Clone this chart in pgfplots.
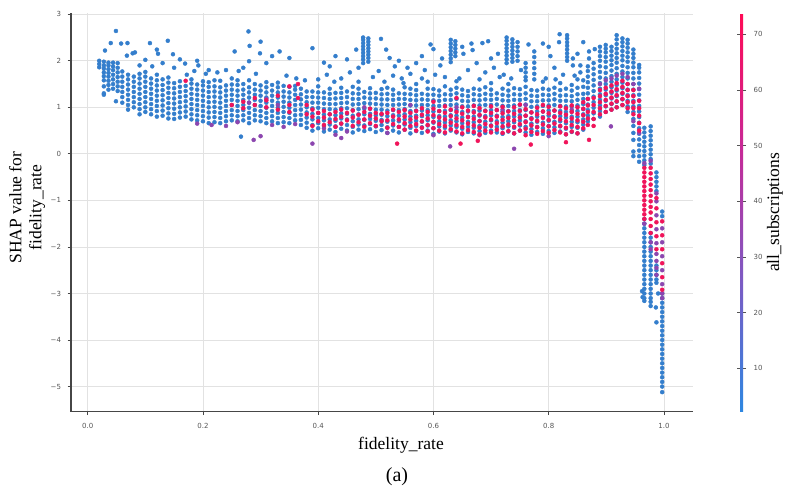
\documentclass[border=0pt]{standalone}
\usepackage{pgfplots}
\usepackage{pgfplotstable}
\pgfplotsset{compat=1.18}
\usepackage{fontspec}
\setmainfont{Liberation Serif}
\newfontfamily\tickfont{DejaVu Sans}

\definecolor{ptblue}{RGB}{52,126,204}
\definecolor{ptpink}{RGB}{240,20,90}
\definecolor{ptpurple}{RGB}{140,70,175}
\definecolor{gridgray}{RGB}{226,226,226}
\definecolor{axisgray}{RGB}{70,70,70}
\definecolor{tickgray}{RGB}{85,85,85}

% blue dense band, one row per x column
\pgfplotstableread{
x a b c d e f g h i j
0.020 1.86 1.93 2.00 nan nan nan nan nan nan nan
0.028 1.30 1.45 1.58 1.67 1.75 1.83 1.90 1.98 nan nan
0.036 1.38 1.48 1.57 1.66 1.74 1.82 1.90 1.96 nan nan
0.044 1.40 1.50 1.60 1.70 1.80 1.88 1.96 nan nan nan
0.052 1.35 1.45 1.55 1.65 1.75 1.85 1.95 nan nan nan
0.060 1.10 1.22 1.33 1.44 1.55 1.66 1.77 nan nan nan
0.070 0.95 1.05 1.16 1.27 1.38 1.49 1.60 1.70 nan nan
0.080 1.00 1.11 1.22 1.33 1.44 1.55 1.66 nan nan nan
0.090 0.85 0.96 1.07 1.18 1.29 1.40 1.51 1.62 1.72 nan
0.100 0.90 1.00 1.11 1.22 1.33 1.44 1.55 1.66 1.76 nan
0.110 0.85 0.96 1.07 1.18 1.29 1.40 1.51 1.62 nan nan
0.120 0.80 0.92 1.03 1.14 1.25 1.36 1.47 1.58 1.70 nan
0.130 0.82 0.93 1.04 1.15 1.26 1.37 1.48 1.60 nan nan
0.140 0.76 0.87 0.98 1.09 1.20 1.31 1.42 1.53 1.64 nan
0.150 0.75 0.86 0.97 1.08 1.19 1.30 1.41 1.52 nan nan
0.160 0.78 0.89 1.00 1.11 1.22 1.33 1.44 1.56 nan nan
0.170 0.80 0.91 1.02 1.13 1.24 1.35 1.46 nan nan nan
0.180 0.74 0.85 0.96 1.07 1.18 1.29 1.40 1.51 1.60 nan
0.190 0.72 0.83 0.94 1.05 1.16 1.27 1.38 1.49 nan nan
0.200 0.70 0.81 0.92 1.03 1.14 1.25 1.36 1.47 1.56 nan
0.210 0.66 0.78 0.89 1.00 1.11 1.22 1.33 1.44 1.54 nan
0.220 0.68 0.79 0.90 1.01 1.12 1.23 1.34 1.45 1.58 nan
0.230 0.66 0.77 0.88 0.99 1.10 1.21 1.32 1.43 1.57 nan
0.240 0.70 0.81 0.92 1.03 1.14 1.25 1.36 1.47 nan nan
0.250 0.72 0.83 0.94 1.05 1.16 1.27 1.38 1.49 1.62 nan
0.260 0.70 0.81 0.92 1.03 1.14 1.25 1.36 1.48 1.58 nan
0.270 0.72 0.83 0.94 1.05 1.16 1.27 1.38 1.50 nan nan
0.280 0.66 0.77 0.88 0.99 1.10 1.21 1.32 1.43 1.58 nan
0.290 0.72 0.83 0.94 1.05 1.16 1.27 1.38 1.50 nan nan
0.300 0.70 0.81 0.92 1.03 1.14 1.25 1.36 1.47 nan nan
0.310 0.66 0.77 0.88 0.99 1.10 1.21 1.32 1.43 1.54 nan
0.320 0.70 0.81 0.92 1.03 1.14 1.25 1.36 1.48 nan nan
0.330 0.66 0.77 0.88 0.99 1.10 1.21 1.32 1.43 1.53 nan
0.340 0.68 0.79 0.90 1.01 1.12 1.23 1.34 1.46 nan nan
0.350 0.66 0.77 0.88 0.99 1.10 1.21 1.32 1.44 nan nan
0.360 0.72 0.83 0.94 1.05 1.16 1.27 1.38 1.46 nan nan
0.370 0.62 0.73 0.84 0.95 1.06 1.17 1.28 1.40 nan nan
0.380 0.56 0.67 0.78 0.89 1.00 1.11 1.22 1.34 nan nan
0.390 0.50 0.62 0.74 0.86 0.98 1.10 1.22 1.34 nan nan
0.400 0.55 0.66 0.77 0.88 0.99 1.10 1.21 1.32 1.45 nan
0.410 0.48 0.60 0.72 0.84 0.96 1.08 1.20 1.32 nan nan
0.420 0.52 0.63 0.74 0.85 0.96 1.07 1.18 1.29 1.40 nan
0.430 0.47 0.59 0.71 0.83 0.95 1.07 1.19 1.31 nan nan
0.440 0.54 0.65 0.76 0.87 0.98 1.09 1.20 1.31 1.42 nan
0.450 0.50 0.62 0.74 0.86 0.98 1.10 1.22 1.34 nan nan
0.460 0.46 0.58 0.70 0.82 0.94 1.06 1.18 1.30 1.44 nan
0.470 0.52 0.63 0.74 0.85 0.96 1.07 1.18 1.29 1.40 1.55
0.480 0.49 0.61 0.73 0.85 0.97 1.09 1.21 1.33 nan nan
0.490 0.53 0.64 0.75 0.86 0.97 1.08 1.19 1.30 1.41 nan
0.500 0.47 0.59 0.71 0.83 0.95 1.07 1.19 1.31 nan nan
0.510 0.51 0.62 0.73 0.84 0.95 1.06 1.17 1.28 1.39 nan
0.520 0.45 0.57 0.69 0.81 0.93 1.05 1.17 1.29 1.42 nan
0.530 0.50 0.61 0.72 0.83 0.94 1.05 1.16 1.27 1.38 nan
0.540 0.46 0.58 0.70 0.82 0.94 1.06 1.18 1.30 nan nan
0.550 0.52 0.63 0.74 0.85 0.96 1.07 1.18 1.29 1.43 nan
0.560 0.44 0.56 0.68 0.80 0.92 1.04 1.16 1.28 1.40 nan
0.570 0.49 0.60 0.71 0.82 0.93 1.04 1.15 1.26 1.37 1.50
0.580 0.45 0.57 0.69 0.81 0.93 1.05 1.17 1.29 nan nan
0.590 0.50 0.61 0.72 0.83 0.94 1.05 1.16 1.27 1.40 nan
0.600 0.43 0.55 0.67 0.79 0.91 1.03 1.15 1.27 1.39 nan
0.610 0.48 0.59 0.70 0.81 0.92 1.03 1.14 1.25 1.36 nan
0.620 0.44 0.56 0.68 0.80 0.92 1.04 1.16 1.28 1.45 nan
0.630 0.50 0.61 0.72 0.83 0.94 1.05 1.16 1.27 1.38 nan
0.640 0.46 0.58 0.70 0.82 0.94 1.06 1.18 1.30 1.42 1.56
0.650 0.42 0.54 0.66 0.78 0.90 1.02 1.14 1.26 1.38 nan
0.660 0.47 0.58 0.69 0.80 0.91 1.02 1.13 1.24 1.35 nan
0.670 0.44 0.56 0.68 0.80 0.92 1.04 1.16 1.28 1.40 nan
0.680 0.49 0.60 0.71 0.82 0.93 1.04 1.15 1.26 1.38 nan
0.690 0.45 0.57 0.69 0.81 0.93 1.05 1.17 1.29 1.43 nan
0.700 0.50 0.61 0.72 0.83 0.94 1.05 1.16 1.27 1.38 1.52
0.710 0.46 0.58 0.70 0.82 0.94 1.06 1.18 1.30 nan nan
0.720 0.43 0.55 0.67 0.79 0.91 1.03 1.15 1.27 1.40 nan
0.730 0.48 0.59 0.70 0.81 0.92 1.03 1.14 1.25 1.36 1.50
0.740 0.44 0.56 0.68 0.80 0.92 1.04 1.16 1.28 1.41 nan
0.750 0.50 0.61 0.72 0.83 0.94 1.05 1.16 1.27 1.39 nan
0.760 0.46 0.58 0.70 0.82 0.94 1.06 1.18 1.30 1.44 1.58
0.770 0.41 0.53 0.65 0.77 0.89 1.01 1.13 1.25 1.37 nan
0.780 0.47 0.58 0.69 0.80 0.91 1.02 1.13 1.24 1.36 nan
0.790 0.43 0.55 0.67 0.79 0.91 1.03 1.15 1.27 1.40 1.55
0.800 0.49 0.60 0.71 0.82 0.93 1.04 1.15 1.26 1.38 nan
0.810 0.45 0.57 0.69 0.81 0.93 1.05 1.17 1.29 1.42 nan
0.820 0.48 0.59 0.70 0.81 0.92 1.03 1.14 1.25 1.37 1.52
0.830 0.42 0.54 0.66 0.78 0.90 1.02 1.14 1.26 1.40 nan
0.840 0.47 0.58 0.69 0.80 0.91 1.02 1.13 1.24 1.36 1.48
0.850 0.44 0.56 0.68 0.80 0.92 1.04 1.16 1.28 1.42 1.60
0.860 0.52 0.63 0.74 0.85 0.96 1.07 1.18 1.29 1.44 1.58
}\bluemain

% blue tall columns near fidelity_rate = 0.9 and the drop near 1.0
\pgfplotstableread{
x a b c d e f g h i j k l
0.868 0.70 0.82 0.94 1.06 1.18 1.30 1.42 1.54 1.66 1.78 1.88 nan
0.878 0.75 0.87 0.99 1.11 1.23 1.35 1.47 1.59 1.71 1.83 1.95 nan
0.889 0.80 0.92 1.04 1.16 1.28 1.40 1.52 1.64 1.76 1.88 2.00 2.10
0.889 2.20 2.30 nan nan nan nan nan nan nan nan nan nan
0.899 0.90 1.02 1.14 1.26 1.38 1.50 1.62 1.74 1.86 1.98 2.08 2.18
0.899 2.26 2.34 nan nan nan nan nan nan nan nan nan nan
0.909 0.95 1.07 1.19 1.31 1.43 1.55 1.67 1.79 1.91 2.01 2.11 2.21
0.909 2.30 nan nan nan nan nan nan nan nan nan nan nan
0.918 1.00 1.12 1.24 1.36 1.48 1.60 1.72 1.84 1.96 2.06 2.16 2.26
0.918 2.36 2.46 2.55 nan nan nan nan nan nan nan nan nan
0.928 1.05 1.17 1.29 1.41 1.53 1.65 1.77 1.89 2.01 2.11 2.21 2.31
0.928 2.40 2.48 nan nan nan nan nan nan nan nan nan nan
0.937 0.90 1.02 1.14 1.26 1.38 1.50 1.62 1.74 1.86 1.98 2.08 2.18
0.937 2.28 2.37 2.45 nan nan nan nan nan nan nan nan nan
0.947 0.30 0.45 0.60 0.75 0.90 1.02 1.14 1.26 1.38 1.50 1.62 1.74
0.947 1.86 1.96 2.06 2.15 2.24 0.05 -0.05 nan nan nan nan nan
0.957 -0.17 -0.05 0.07 0.19 0.31 0.43 0.55 0.67 0.79 0.91 1.03 1.15
0.957 1.27 1.39 1.51 1.63 1.75 1.85 1.91 nan nan nan nan nan
0.966 0.56 0.46 0.36 0.26 0.16 0.06 -0.04 -0.14 -0.24 -1.40 -1.50 -1.60
0.966 -1.70 -1.80 -1.90 -2.00 -2.10 -2.20 -2.30 -2.40 -2.50 -2.60 -2.70 -2.80
0.966 -2.90 -3.00 -3.10 -3.16 nan nan nan nan nan nan nan nan
0.977 0.59 0.49 0.39 0.29 0.19 0.09 -0.01 -0.11 -0.21 -1.70 -1.80 -1.90
0.977 -2.00 -2.10 -2.20 -2.30 -2.40 -2.50 -2.60 -2.70 -2.80 -2.90 -3.00 -3.10
0.977 -3.18 -3.27 nan nan nan nan nan nan nan nan nan nan
0.987 -0.40 -0.50 -0.60 -0.70 -0.80 -2.40 -2.50 -2.60 -2.70 -2.77 -3.62 nan
0.997 -1.24 -1.34 -3.00 -3.10 -3.20 -3.30 -3.40 -3.50 -3.60 -3.70 -3.80 -3.90
0.997 -4.00 -4.10 -4.20 -4.30 -4.40 -4.50 -4.60 -4.70 -4.80 -4.90 -5.00 -5.12
}\bluetall

% scattered blue points above and below the band
\pgfplotstableread{
x y
0.049 2.64
0.030 2.22
0.040 2.38
0.058 2.37
0.069 2.38
0.068 2.11
0.078 2.16
0.082 2.18
0.108 2.38
0.100 2.02
0.120 2.24
0.122 2.15
0.139 2.43
0.148 2.14
0.160 2.03
0.169 1.94
0.190 2.00
0.192 1.90
0.255 2.20
0.279 2.63
0.281 2.32
0.300 2.41
0.280 1.99
0.299 2.16
0.310 1.95
0.320 2.10
0.333 2.20
0.350 2.06
0.270 1.85
0.240 1.80
0.225 1.75
0.210 1.80
0.185 1.78
0.150 1.85
0.130 1.95
0.090 1.90
0.112 1.88
0.172 1.70
0.205 1.72
0.262 1.78
0.292 1.72
0.345 1.68
0.362 1.62
0.377 1.58
0.049 1.13
0.028 1.27
0.266 0.37
0.390 2.27
0.410 1.96
0.420 1.88
0.430 2.10
0.450 2.03
0.466 2.24
0.478 1.95
0.478 2.03
0.478 2.10
0.478 2.17
0.478 2.24
0.478 2.31
0.478 2.38
0.478 2.45
0.478 2.50
0.487 1.98
0.487 2.06
0.487 2.13
0.487 2.20
0.487 2.27
0.487 2.34
0.487 2.41
0.487 2.48
0.509 2.47
0.518 2.24
0.524 2.06
0.533 1.88
0.400 1.60
0.415 1.70
0.428 1.55
0.440 1.62
0.455 1.75
0.470 1.85
0.495 1.65
0.505 1.78
0.515 1.55
0.530 1.68
0.545 1.62
0.555 1.85
0.540 2.00
0.560 1.72
0.548 1.52
0.570 1.95
0.580 2.10
0.585 1.80
0.595 2.35
0.600 2.25
0.603 1.70
0.612 1.90
0.615 2.05
0.630 2.45
0.630 2.37
0.630 2.29
0.630 2.21
0.630 2.13
0.630 2.05
0.630 1.97
0.638 2.42
0.638 2.34
0.638 2.26
0.638 2.18
0.638 2.10
0.650 2.30
0.652 2.15
0.666 2.37
0.668 2.23
0.675 1.95
0.660 1.80
0.685 2.38
0.695 2.42
0.690 1.75
0.700 2.05
0.705 1.85
0.712 2.15
0.620 1.65
0.645 1.62
0.680 1.60
0.715 1.65
0.580 1.62
0.590 1.55
0.727 1.95
0.727 2.03
0.727 2.11
0.727 2.19
0.727 2.27
0.727 2.35
0.727 2.43
0.727 2.50
0.737 1.98
0.737 2.06
0.737 2.14
0.737 2.22
0.737 2.30
0.737 2.38
0.737 2.46
0.746 2.00
0.746 2.10
0.746 2.20
0.746 2.30
0.746 2.40
0.760 1.65
0.760 1.75
0.760 1.85
0.760 1.95
0.775 1.60
0.775 1.72
0.775 1.84
0.775 1.96
0.775 2.08
0.775 2.20
0.790 2.37
0.800 2.30
0.803 2.10
0.810 1.85
0.818 2.40
0.819 2.57
0.832 2.00
0.832 2.08
0.832 2.16
0.832 2.24
0.832 2.32
0.832 2.40
0.832 2.48
0.832 2.55
0.842 1.90
0.842 2.05
0.850 2.15
0.855 1.75
0.855 1.90
0.860 2.40
0.870 2.05
0.870 2.20
0.880 2.25
0.765 2.35
0.795 1.62
0.812 1.60
0.825 1.70
0.845 1.68
0.722 1.70
0.735 1.62
0.752 1.80
0.962 -2.95
0.963 -3.08
0.986 -3.30
0.990 -3.00
}\blueout

% purple (mid-range all_subscriptions)
\pgfplotstableread{
x y
0.190 0.65
0.215 0.62
0.240 0.60
0.260 0.68
0.288 0.30
0.300 0.38
0.320 0.62
0.340 0.58
0.360 0.64
0.280 1.10
0.310 1.18
0.330 1.05
0.390 0.22
0.430 0.41
0.440 0.34
0.629 0.16
0.740 0.11
0.908 0.59
0.410 0.55
0.450 0.48
0.480 1.00
0.520 0.45
0.560 1.05
0.600 0.40
0.640 1.00
0.680 0.40
0.720 0.95
0.760 1.05
0.800 0.38
0.840 0.95
0.889 1.50
0.899 1.58
0.909 1.62
0.918 1.68
0.928 1.72
0.937 1.65
0.947 1.50
0.957 1.40
0.957 0.45
0.947 0.70
0.966 -1.50
0.977 -1.90
0.977 -2.05
0.987 -1.02
0.987 -1.32
0.987 -1.62
0.987 -1.92
0.987 -2.15
0.987 -2.30
0.987 -2.45
0.987 -2.60
0.997 -1.60
0.997 -1.90
0.997 -2.20
0.997 -2.50
0.997 -2.80
0.997 -3.00
0.997 -3.10
0.966 -0.20
0.977 -0.15
0.987 -0.85
}\purplepts

% pink (high all_subscriptions)
\pgfplotstableread{
x a b c d e
0.170 1.57 nan nan nan nan
0.250 1.05 nan nan nan nan
0.270 1.12 0.98 nan nan nan
0.290 1.20 1.05 nan nan nan
0.310 1.00 1.15 nan nan nan
0.330 1.25 0.95 nan nan nan
0.350 1.45 1.05 0.90 nan nan
0.365 1.50 1.20 nan nan nan
0.380 0.85 1.05 nan nan nan
0.390 0.60 0.80 0.95 nan nan
0.400 0.70 0.88 nan nan nan
0.410 0.62 0.78 0.92 nan nan
0.420 0.85 0.68 nan nan nan
0.430 0.58 0.75 0.90 nan nan
0.440 0.80 0.65 0.95 nan nan
0.450 0.72 0.88 nan nan nan
0.460 0.60 0.78 0.93 nan nan
0.470 0.68 0.84 nan nan nan
0.480 0.58 0.74 0.90 nan nan
0.490 0.66 0.82 0.97 nan nan
0.500 0.60 0.76 0.88 nan nan
0.510 0.70 0.86 nan nan nan
0.520 0.56 0.72 0.88 nan nan
0.530 0.64 0.80 0.95 nan nan
0.537 0.22 nan nan nan nan
0.540 0.58 0.74 0.90 nan nan
0.550 0.52 0.66 0.80 0.94 nan
0.560 0.60 0.74 0.88 nan nan
0.570 0.50 0.64 0.78 0.92 nan
0.580 0.56 0.70 0.84 0.98 nan
0.590 0.48 0.62 0.76 0.90 nan
0.600 0.55 0.69 0.83 0.97 1.12
0.610 0.50 0.64 0.78 0.92 nan
0.620 0.46 0.60 0.74 0.88 1.02
0.630 0.53 0.67 0.81 0.95 nan
0.640 0.48 0.62 0.76 0.90 1.20
0.647 0.22 nan nan nan nan
0.650 0.44 0.58 0.72 0.86 1.00
0.660 0.51 0.65 0.79 0.93 nan
0.670 0.47 0.61 0.75 0.89 1.03
0.677 0.28 nan nan nan nan
0.680 0.42 0.56 0.70 0.84 0.98
0.690 0.50 0.64 0.78 0.92 nan
0.700 0.46 0.60 0.74 0.88 1.02
0.710 0.52 0.66 0.80 0.94 nan
0.720 0.45 0.59 0.73 0.87 1.01
0.730 0.49 0.63 0.77 0.91 nan
0.740 0.44 0.58 0.72 0.86 1.00
0.750 0.50 0.64 0.78 0.92 1.06
0.760 0.40 0.54 0.68 0.82 0.96
0.769 0.20 nan nan nan nan
0.770 0.47 0.61 0.75 0.89 nan
0.780 0.43 0.57 0.71 0.85 0.99
0.790 0.49 0.63 0.77 0.91 1.05
0.800 0.45 0.59 0.73 0.87 1.01
0.810 0.51 0.65 0.79 0.93 nan
0.820 0.46 0.60 0.74 0.88 1.02
0.830 0.42 0.56 0.70 0.84 0.98
0.830 0.25 nan nan nan nan
0.840 0.48 0.62 0.76 0.90 1.04
0.850 0.44 0.58 0.72 0.86 1.00
0.860 0.55 0.69 0.83 0.97 1.11
0.868 0.62 0.76 0.90 1.04 1.18
0.870 0.30 nan nan nan nan
0.878 0.60 0.75 0.90 1.05 1.20
0.889 0.85 0.98 1.11 1.24 1.37
0.899 0.90 1.03 1.16 1.29 1.42
0.909 0.95 1.08 1.21 1.34 1.47
0.918 1.00 1.13 1.26 1.39 1.52
0.928 1.05 1.18 1.31 1.44 1.57
0.937 0.98 1.11 1.24 1.37 1.50
0.947 0.85 0.98 1.11 1.24 1.37
0.957 0.50 0.66 0.82 0.98 1.14
}\pinkband

\pgfplotstableread{
x a b c d e f g h i j k l
0.966 -0.30 -0.40 -0.50 -0.60 -0.70 -0.80 -0.90 -1.00 -1.10 -1.20 -1.30 -1.40
0.977 -0.30 -0.42 -0.54 -0.66 -0.78 -0.90 -1.02 -1.14 -1.26 -1.40 -1.55 -1.70
0.987 -0.95 -1.17 -1.47 -1.77 -2.05 nan nan nan nan nan nan nan
0.997 -1.45 -1.75 -2.05 -2.35 -2.65 -2.92 nan nan nan nan nan nan
}\pinkdrop

\begin{document}
\begin{tikzpicture}
\path[use as bounding box] (0,0) rectangle (795pt,488pt);
\begin{axis}[
    at={(71pt,76.3pt)}, anchor=south west,
    scale only axis,
    width=622.3pt, height=398.4pt,
    xmin=-0.029, xmax=1.051,
    ymin=-5.54, ymax=3.02,
    axis lines*=left,
    axis line style={draw=axisgray, line width=1.1pt},
    xtick={0,0.2,0.4,0.6,0.8,1.0},
    xticklabels={0.0,0.2,0.4,0.6,0.8,1.0},
    ytick={-5,-4,-3,-2,-1,0,1,2,3},
    yticklabels={−5,−4,−3,−2,−1,0,1,2,3},
    tick align=outside,
    major tick length=3.5pt,
    tick style={draw=axisgray, line width=0.8pt},
    grid=major,
    major grid style={draw=gridgray, line width=0.8pt},
    /pgf/number format/assume math mode=true,
    ticklabel style={font=\tickfont\fontsize{7}{8}\selectfont, text=tickgray},
    xticklabel style={yshift=-4.5pt},
    yticklabel style={xshift=-3pt},
    pts/.style={only marks, mark=*, mark size=2pt},
    colormap={shapcm}{rgb255=(45,135,225) rgb255=(125,90,195) rgb255=(200,40,150) rgb255=(255,10,85)},
    point meta min=2.2, point meta max=73.8,
    colorbar,
    colorbar style={
        at={(parent axis.north east)}, anchor=north west, xshift=38.2pt,
        width=3pt,
        axis line style={draw=none},
        ytick={10,20,30,40,50,60,70},
        yticklabel pos=right,
        tick align=outside,
        major tick length=3pt,
        ytick style={draw=tickgray, line width=0.7pt},
        /pgf/number format/assume math mode=true,
        yticklabel style={font=\tickfont\fontsize{7}{8}\selectfont, text=tickgray, xshift=4pt},
    },
]
\pgfplotsinvokeforeach{1,...,10}{\addplot[pts, color=ptblue] table[x index=0, y index=#1]{\bluemain};}
\pgfplotsinvokeforeach{1,...,12}{\addplot[pts, color=ptblue] table[x index=0, y index=#1]{\bluetall};}
\addplot[pts, color=ptblue] table[x=x, y=y]{\blueout};
\addplot[pts, color=ptpurple] table[x=x, y=y]{\purplepts};
\pgfplotsinvokeforeach{1,...,5}{\addplot[pts, color=ptpink] table[x index=0, y index=#1]{\pinkband};}
\pgfplotsinvokeforeach{1,...,12}{\addplot[pts, color=ptpink] table[x index=0, y index=#1]{\pinkdrop};}
\end{axis}
\node[rotate=90, align=center, font=\fontsize{17.5}{20}\selectfont] at (27pt,280.5pt) {SHAP value for\\fidelity\_rate};
\node[anchor=base, font=\fontsize{17.5}{20}\selectfont] at (401pt,39pt) {fidelity\_rate};
\node[rotate=90, font=\fontsize{17.5}{20}\selectfont] at (775pt,275.5pt) {all\_subscriptions};
\node[anchor=base, font=\fontsize{20}{24}\selectfont] at (397pt,6.5pt) {(a)};
\end{tikzpicture}
\end{document}
